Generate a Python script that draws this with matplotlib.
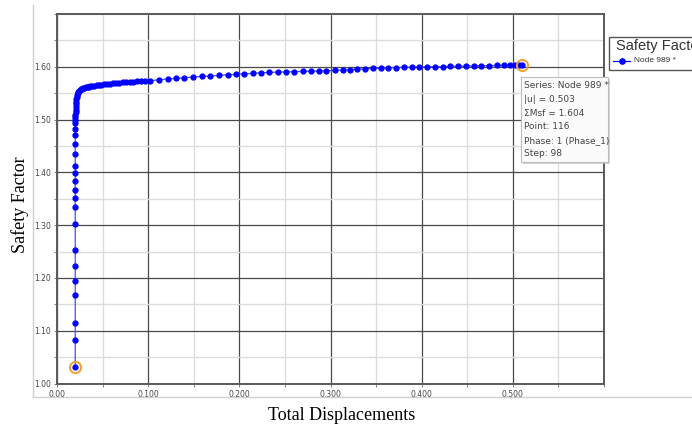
import matplotlib
matplotlib.use("Agg")
import matplotlib.pyplot as plt
from matplotlib.patches import Rectangle
from matplotlib.lines import Line2D
from matplotlib.ticker import MultipleLocator, FixedLocator

# total displacement |u| and safety factor ΣMsf
disp = [0.0200, 0.0200, 0.0200, 0.0200, 0.0200, 0.0200, 0.0200, 0.0200,
        0.0200, 0.0200, 0.0200, 0.0200, 0.0200, 0.0200, 0.0200, 0.0200,
        0.0200, 0.0201, 0.0201, 0.0201, 0.0202, 0.0202, 0.0203, 0.0204,
        0.0205, 0.0207, 0.0209, 0.0212, 0.0216, 0.0222, 0.0228, 0.0235,
        0.0243, 0.0252, 0.0262, 0.0273, 0.0286, 0.0300, 0.0315, 0.0331,
        0.0348, 0.0366, 0.0388, 0.0410, 0.0434, 0.0460, 0.0488, 0.0516,
        0.0546, 0.0578, 0.0612, 0.0646, 0.0682, 0.0719, 0.0757, 0.0796,
        0.0836, 0.0877, 0.0920, 0.0966, 0.1019, 0.1121, 0.1213, 0.1304,
        0.1396, 0.1495, 0.1587, 0.1678, 0.1777, 0.1873, 0.1964, 0.2055,
        0.2147, 0.2238, 0.2330, 0.2422, 0.2513, 0.2604, 0.2697, 0.2788,
        0.2879, 0.2953, 0.3044, 0.3136, 0.3209, 0.3294, 0.3379, 0.3464,
        0.3549, 0.3634, 0.3719, 0.3804, 0.3889, 0.3974, 0.4059, 0.4144,
        0.4229, 0.4314, 0.4399, 0.4484, 0.4569, 0.4654, 0.4739, 0.4824,
        0.4900, 0.4965, 0.5020, 0.5065, 0.5100]
safety = [1.031, 1.083, 1.115, 1.167, 1.195, 1.223, 1.252, 1.303,
          1.334, 1.351, 1.367, 1.383, 1.398, 1.412, 1.434, 1.454,
          1.470, 1.483, 1.493, 1.499, 1.504, 1.509, 1.514, 1.519,
          1.524, 1.529, 1.534, 1.539, 1.543, 1.547, 1.550, 1.552,
          1.554, 1.5555, 1.557, 1.558, 1.559, 1.560, 1.5608, 1.5615,
          1.5622, 1.5630, 1.5638, 1.5645, 1.5652, 1.5658, 1.5664, 1.5670,
          1.5676, 1.5682, 1.5688, 1.5694, 1.5699, 1.5704, 1.5709, 1.5714,
          1.5719, 1.5724, 1.5728, 1.5732, 1.5735, 1.5754, 1.5767, 1.5780,
          1.5792, 1.5805, 1.5818, 1.5824, 1.5837, 1.5849, 1.5855, 1.5868,
          1.5874, 1.5887, 1.5893, 1.5900, 1.5903, 1.5906, 1.5912, 1.5919,
          1.5922, 1.5925, 1.5931, 1.5938, 1.5944, 1.5952, 1.5960, 1.5968,
          1.5975, 1.5980, 1.5984, 1.5988, 1.5991, 1.5994, 1.5998, 1.6001,
          1.6004, 1.6007, 1.6010, 1.6013, 1.6016, 1.6019, 1.6022, 1.6025,
          1.6028, 1.6031, 1.6033, 1.6036, 1.6038]

x_ticks = [0.0, 0.1, 0.2, 0.3, 0.4, 0.5]
x_labels = ["0.00", "0.100", "0.200", "0.300", "0.400", "0.500"]
y_ticks = [1.0, 1.1, 1.2, 1.3, 1.4, 1.5, 1.6]
y_labels = ["1.00", "1.10", "1.20", "1.30", "1.40", "1.50", "1.60"]
tip_lines = ["Series: Node 989 *", "|u| = 0.503", "\u03a3Msf = 1.604",
             "Point: 116", "Phase: 1 (Phase_1)", "Step: 98"]

W, H = 692, 428
fig = plt.figure(figsize=(W / 100, H / 100), dpi=100)
ax = fig.add_axes([57 / W, 1 - 383.5 / H, (604 - 57) / W, (383.5 - 14) / H])

ax.set_xlim(0, 0.6)
ax.set_ylim(1.0, 1.7)
ax.xaxis.set_major_locator(FixedLocator(x_ticks))
ax.set_xticklabels(x_labels)
ax.yaxis.set_major_locator(FixedLocator(y_ticks))
ax.set_yticklabels(y_labels)
ax.xaxis.set_minor_locator(MultipleLocator(0.05))
ax.yaxis.set_minor_locator(MultipleLocator(0.05))
ax.grid(which="minor", color="#dcdcdc", linewidth=1.0)
ax.grid(which="major", color="#4a4a4a", linewidth=0.9)
ax.set_axisbelow(True)
ax.tick_params(which="both", length=2.5, width=0.8, color="#888888",
               labelsize=5.5, labelcolor="#444444", pad=2)
for s in ax.spines.values():
    s.set_color("#5a5a5a")
    s.set_linewidth(1.4)

ax.plot(disp, safety, color="#4a4aff", linewidth=0.9, marker="o",
        markersize=3.5, markerfacecolor="#0000ff", markeredgecolor="#0000ff",
        zorder=3)
ax.plot([disp[0], disp[-1]], [safety[0], safety[-1]], linestyle="none",
        marker="o", markersize=8, markerfacecolor="none",
        markeredgecolor="#f0a030", markeredgewidth=1.4, zorder=4)

# light frame of the chart window
fig.add_artist(Line2D([33 / W, 33 / W], [1 - 5 / H, 1 - 397 / H],
                      color="#d0d0d0", linewidth=1))
fig.add_artist(Line2D([33 / W, 1.0], [1 - 397 / H, 1 - 397 / H],
                      color="#d0d0d0", linewidth=1))

fig.text(342 / W, 1 - 416 / H, "Total Displacements", ha="center",
         va="center", fontsize=13, family="Liberation Serif")
fig.text(20 / W, 1 - 205 / H, "Safety Factor", ha="center", va="center",
         rotation=90, fontsize=13, family="Liberation Serif")

# legend box (cut by the right edge as in the screenshot)
fig.add_artist(Rectangle((609 / W, 1 - 70 / H), 90 / W, 33 / H,
                         facecolor="white", edgecolor="#555555",
                         linewidth=1))
fig.text(616 / W, 1 - 46 / H, "Safety Factor", ha="left", va="center",
         fontsize=10.5, color="#333333", family="Liberation Sans")
fig.add_artist(Line2D([613 / W, 630 / W], [1 - 61 / H, 1 - 61 / H],
                      color="#0000ff", linewidth=0.9))
fig.add_artist(Line2D([621.5 / W], [1 - 61 / H], color="#0000ff",
                      marker="o", markersize=3.8))
fig.text(634 / W, 1 - 61 / H, "Node 989 *", ha="left", va="center",
         fontsize=6, color="#333333", family="Liberation Sans")

# hover tooltip
fig.add_artist(Rectangle((523 / W, 1 - 164 / H), 87 / W, 85 / H,
                         facecolor="#bbbbbb", edgecolor="none", alpha=0.6))
fig.add_artist(Rectangle((521 / W, 1 - 162 / H), 87 / W, 85 / H,
                         facecolor="#fbfbfb", edgecolor="#bdbdbd",
                         linewidth=0.8))
for i, line in enumerate(tip_lines):
    fig.text(524 / W, 1 - (86 + i * 13.6) / H, line, ha="left",
             va="center", fontsize=6.5, color="#444444",
             family="DejaVu Sans")

fig.savefig("out.png", dpi=100)
